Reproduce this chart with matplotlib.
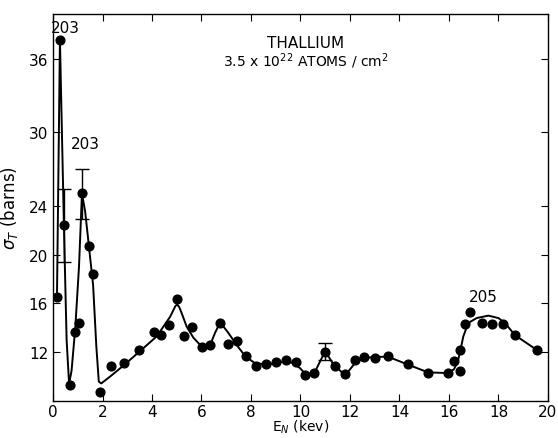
import matplotlib
matplotlib.use("Agg")
import matplotlib.pyplot as plt

# measured points (E_N in kev, sigma_T in barns)
x_pts = [0.16, 0.28, 0.44, 0.69, 0.89, 1.05, 1.17, 1.44, 1.60, 1.88,
         2.33, 2.87, 3.47, 4.09, 4.35, 4.67, 5.02, 5.31, 5.62, 6.04,
         6.36, 6.74, 7.09, 7.42, 7.78, 8.19, 8.59, 9.02, 9.40, 9.82,
         10.18, 10.55, 11.0, 11.39, 11.78, 12.2, 12.57, 13.0, 13.52, 14.33,
         15.16, 15.98, 16.2, 16.44, 16.44, 16.63, 16.85, 17.33, 17.74, 18.18,
         18.67, 19.55]
y_pts = [16.5, 37.6, 22.4, 9.3, 13.7, 14.4, 25.0, 20.7, 18.4, 8.75,
         10.9, 11.1, 12.2, 13.7, 13.4, 14.2, 16.4, 13.35, 14.1, 12.4,
         12.6, 14.4, 12.7, 12.9, 11.7, 10.9, 11.0, 11.2, 11.4, 11.2,
         10.1, 10.3, 12.0, 10.9, 10.2, 11.4, 11.65, 11.55, 11.7, 11.05,
         10.3, 10.3, 11.3, 10.5, 12.2, 14.3, 15.3, 14.4, 14.3, 14.3,
         13.4, 12.2]

# error bars
err_x = [0.44, 1.17, 11.0]
err_y = [22.4, 25.0, 12.0]
err_lo = [3.0, 2.1, 0.65]
err_hi = [3.0, 2.0, 0.75]

# hand drawn curve
cx = [0.16, 0.22, 0.28, 0.36, 0.45, 0.55, 0.65, 0.75, 0.9, 1.05,
      1.17, 1.3, 1.45, 1.62, 1.75, 1.85, 1.95, 2.3, 2.84, 3.52,
      4.19, 4.73, 4.95, 5.02, 5.1, 5.2, 5.4, 5.67, 5.9, 6.07,
      6.25, 6.41, 6.55, 6.72, 6.85, 7.08, 7.42, 7.76, 8.16, 8.7,
      9.24, 9.5, 9.71, 9.98, 10.21, 10.56, 11.0, 11.33, 11.73, 11.9,
      12.2, 12.57, 13.0, 13.52, 14.33, 15.16, 15.96, 16.2, 16.35, 16.44,
      16.58, 16.78, 17.12, 17.59, 18.0, 18.26, 18.67, 19.54]
cy = [16.5, 27.0, 37.6, 30.0, 21.5, 13.0, 9.4, 10.5, 14.0, 19.0,
      25.0, 23.5, 20.7, 17.5, 12.5, 9.6, 9.45, 10.0, 10.9, 12.1,
      13.3, 14.9, 15.8, 15.9, 15.7, 15.2, 14.1, 13.2, 12.7, 12.5,
      12.6, 12.9, 13.6, 14.3, 14.2, 13.6, 12.6, 11.7, 11.1, 11.0,
      11.2, 11.25, 11.1, 10.7, 10.2, 10.3, 12.1, 11.0, 10.25, 10.35,
      11.1, 11.55, 11.6, 11.65, 11.0, 10.35, 10.3, 10.6, 11.2, 11.95,
      13.3, 14.4, 14.8, 15.0, 14.8, 14.4, 13.4, 12.2]

x_ticks = [0, 2, 4, 6, 8, 10, 12, 14, 16, 18, 20]
y_ticks = [12, 16, 20, 24, 30, 36]

fig = plt.figure(figsize=(5.58, 4.39), dpi=100)
ax = fig.add_axes([0.095, 0.084, 0.887, 0.882])

ax.plot(cx, cy, color='black', lw=1.4)
ax.errorbar(err_x, err_y, yerr=[err_lo, err_hi], fmt='none', ecolor='black',
            elinewidth=1.0, capsize=5, capthick=1.0)
ax.plot(x_pts, y_pts, 'o', color='black', ms=6.3)

ax.set_xlim(0, 20)
ax.set_ylim(8.0, 39.7)
ax.set_xticks(x_ticks)
ax.set_yticks(y_ticks)
ax.tick_params(direction='in', top=True, right=True, length=5, labelsize=11)
ax.tick_params(axis='x', pad=2)
for s in ax.spines.values():
    s.set_linewidth(1.0)

ax.set_xlabel(r'E$_N$ (kev)', fontsize=10, labelpad=-1)
ax.set_ylabel(r'$\sigma_T$ (barns)', fontsize=12, labelpad=6)

ax.text(10.2, 37.4, 'THALLIUM', ha='center', va='center', fontsize=11)
ax.text(10.2, 35.9, r'3.5 x 10$^{22}$ ATOMS / cm$^2$', ha='center', va='center', fontsize=10)
ax.text(0.48, 38.6, '203', ha='center', va='center', fontsize=11)
ax.text(1.29, 29.1, '203', ha='center', va='center', fontsize=11)
ax.text(17.39, 16.6, '205', ha='center', va='center', fontsize=11)

fig.savefig('out.png', dpi=100)
